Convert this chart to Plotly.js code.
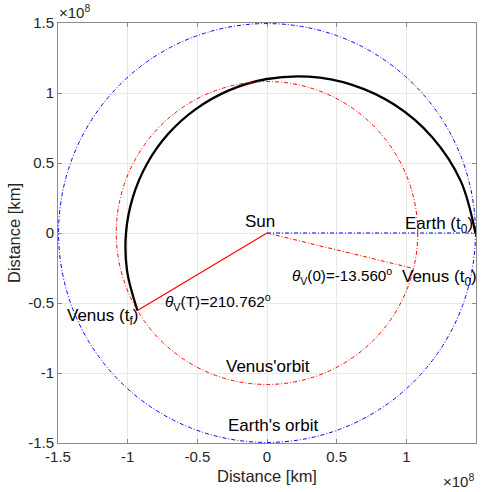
<!DOCTYPE html>
<html>
<head>
<meta charset="utf-8">
<script src="https://cdn.plot.ly/plotly-3.0.1.min.js"></script>
<style>
  html, body { margin: 0; padding: 0; background: #ffffff; }
  #plot { width: 485px; height: 492px; }
</style>
</head>
<body>
<div id="plot"></div>
<script>
// Orbit radii, in units of 1e8 km
const earthOrbitRadius = 1.496;
const venusOrbitRadius = 1.082;

// Venus angular position at departure and arrival (degrees)
const venusStartDeg = -13.560;
const venusEndDeg = 210.762;

// Transfer trajectory: polar angle (deg) and heliocentric distance (1e8 km)
const transferAngleDeg = [0, 15, 30, 45, 60, 75, 90, 105, 120, 135, 150, 165, 180, 195, 210.762];
const transferRadius   = [1.496, 1.439, 1.369, 1.295, 1.222, 1.156, 1.100, 1.055, 1.022, 1.002, 0.993, 0.996, 1.012, 1.040, 1.082];

// Axis ticks
const tickValues = [-1.5, -1, -0.5, 0, 0.5, 1, 1.5];
const tickLabels = ['-1.5', '-1', '-0.5', '0', '0.5', '1', '1.5'];

const rad = d => d * Math.PI / 180;
const polarX = (r, d) => r * Math.cos(rad(d));
const polarY = (r, d) => r * Math.sin(rad(d));

const transferX = transferAngleDeg.map((d, i) => polarX(transferRadius[i], d));
const transferY = transferAngleDeg.map((d, i) => polarY(transferRadius[i], d));

const dashDot = '4px,2px,1px,2px';
const fontFamily = 'Liberation Sans, Arial, sans-serif';

const traces = [
  { // Sun -> Earth at departure
    x: [0, earthOrbitRadius], y: [0, 0],
    mode: 'lines', line: { color: '#0000ff', width: 1, dash: dashDot },
    hoverinfo: 'skip'
  },
  { // Sun -> Venus at departure
    x: [0, polarX(venusOrbitRadius, venusStartDeg)],
    y: [0, polarY(venusOrbitRadius, venusStartDeg)],
    mode: 'lines', line: { color: '#ff0000', width: 1, dash: dashDot },
    hoverinfo: 'skip'
  },
  { // Sun -> Venus at arrival
    x: [0, polarX(venusOrbitRadius, venusEndDeg)],
    y: [0, polarY(venusOrbitRadius, venusEndDeg)],
    mode: 'lines', line: { color: '#ff0000', width: 1.2 },
    hoverinfo: 'skip'
  },
  { // transfer arc
    x: transferX, y: transferY,
    mode: 'lines', line: { color: '#000000', width: 2.3, shape: 'spline', smoothing: 1 },
    hoverinfo: 'skip'
  }
];

const orbitShape = (r, color) => ({
  type: 'circle', xref: 'x', yref: 'y',
  x0: -r, x1: r, y0: -r, y1: r,
  line: { color: color, width: 1, dash: dashDot }
});

const label = (x, y, text, size) => ({
  x: x, y: y, xref: 'x', yref: 'y', text: text, showarrow: false,
  xanchor: 'center', yanchor: 'middle',
  font: { family: fontFamily, size: size || 17, color: '#000000' }
});

const deg = v => v.toFixed(3) + '<sup>o</sup>';

const exponentFont = { family: fontFamily, size: 15, color: '#262626' };

const annotations = [
  label(-0.05, 0.08, 'Sun'),
  label(1.237, 0.06, 'Earth (t<sub>0</sub>)'),
  label(0.535, -0.31, '<i>θ</i><sub>V</sub>(0)=' + deg(venusStartDeg), 15.2),
  label(1.24, -0.32, 'Venus (t<sub>0</sub>)'),
  label(-0.35, -0.49, '<i>θ</i><sub>V</sub>(T)=' + deg(venusEndDeg), 15.4),
  label(-1.18, -0.60, 'Venus (t<sub>f</sub>)'),
  label(0.007, -0.95, "Venus'orbit"),
  label(0.04, -1.375, "Earth's orbit"),
  { // exponent, y axis
    xref: 'paper', yref: 'paper', x: 0, y: 1, xanchor: 'left', yanchor: 'bottom',
    xshift: -1, showarrow: false, text: '×10<sup>8</sup>', font: exponentFont
  },
  { // exponent, x axis
    xref: 'paper', yref: 'paper', x: 1, y: 0, xanchor: 'right', yanchor: 'top',
    yshift: -26, showarrow: false, text: '×10<sup>8</sup>', font: exponentFont
  }
];

const axisCommon = {
  range: [-1.5, 1.5],
  tickvals: tickValues, ticktext: tickLabels,
  showgrid: true, gridcolor: '#e8e8e8', gridwidth: 1,
  zeroline: false,
  showline: true, linecolor: '#8a8a8a', linewidth: 1, mirror: 'ticks',
  ticks: 'inside', ticklen: 4, tickcolor: '#8a8a8a',
  tickfont: { family: fontFamily, size: 15, color: '#262626' },
  fixedrange: true
};

const titleFont = { family: fontFamily, size: 16.5, color: '#262626' };

const layout = {
  width: 485, height: 492,
  margin: { l: 58, r: 9, t: 23, b: 49, pad: 0 },
  paper_bgcolor: '#ffffff', plot_bgcolor: '#ffffff',
  showlegend: false,
  xaxis: Object.assign({}, axisCommon, {
    title: { text: 'Distance [km]', standoff: 6, font: titleFont }
  }),
  yaxis: Object.assign({}, axisCommon, {
    title: { text: 'Distance [km]', standoff: 3, font: titleFont }
  }),
  shapes: [
    orbitShape(earthOrbitRadius, '#0000ff'),
    orbitShape(venusOrbitRadius, '#ff0000')
  ],
  annotations: annotations
};

Plotly.newPlot('plot', traces, layout, { displayModeBar: false, staticPlot: true });
</script>
</body>
</html>
